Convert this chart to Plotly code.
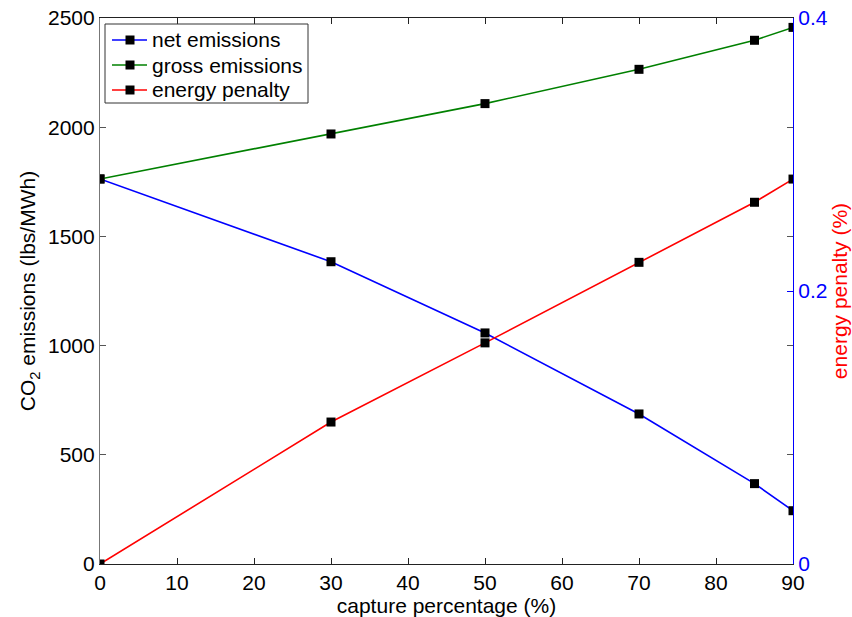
import plotly.graph_objects as go

# Capture percentage (%)
capture = [0, 30, 50, 70, 85, 90]

# CO2 emissions (lbs/MWh)
net_emissions = [1763, 1384, 1058, 687, 368, 244]
gross_emissions = [1763, 1969, 2108, 2265, 2398, 2457]

# Energy penalty (fraction, right axis)
energy_penalty = [0.0, 0.104, 0.162, 0.221, 0.265, 0.282]

x_ticks = [0, 10, 20, 30, 40, 50, 60, 70, 80, 90]
y_ticks = [0, 500, 1000, 1500, 2000, 2500]
y2_ticks = [0, 0.2, 0.4]

series_names = ["net emissions", "gross emissions", "energy penalty"]
series_colors = ["#0000ff", "#008000", "#ff0000"]

FONT = "Liberation Sans, Arial, sans-serif"
FS = 21
W, H = 852, 617
ML, MR, MT, MB = 100, 59, 18, 53
PW, PH = W - ML - MR, H - MT - MB
marker = dict(symbol="square", size=9, color="black")

fig = go.Figure()
fig.add_trace(go.Scatter(x=capture, y=net_emissions, name=series_names[0],
                         mode="lines+markers", line=dict(color=series_colors[0], width=1.6),
                         marker=marker))
fig.add_trace(go.Scatter(x=capture, y=gross_emissions, name=series_names[1],
                         mode="lines+markers", line=dict(color=series_colors[1], width=1.6),
                         marker=marker))
fig.add_trace(go.Scatter(x=capture, y=energy_penalty, name=series_names[2],
                         mode="lines+markers", line=dict(color=series_colors[2], width=1.6),
                         marker=marker, yaxis="y2"))


# Compact boxed legend in the upper-left corner of the axes, laid out in pixels
def px(xp):
    return (xp - ML) / PW


def py(yp):
    return (MT + PH - yp) / PH


shapes = [dict(type="rect", xref="paper", yref="paper",
               x0=px(105), x1=px(308), y0=py(24), y1=py(103),
               line=dict(color="#333", width=1), fillcolor="white", layer="above")]
annotations = []
for i, (name, color) in enumerate(zip(series_names, series_colors)):
    row = 40 + 25 * i
    shapes.append(dict(type="line", xref="paper", yref="paper",
                       x0=px(112), x1=px(147), y0=py(row), y1=py(row),
                       line=dict(color=color, width=1.6), layer="above"))
    shapes.append(dict(type="rect", xref="paper", yref="paper",
                       x0=px(125.5), x1=px(134.5), y0=py(row - 4.5), y1=py(row + 4.5),
                       line=dict(width=0), fillcolor="black", layer="above"))
    annotations.append(dict(text=name, xref="paper", yref="paper",
                            x=px(150), y=py(row), xanchor="left", yanchor="middle",
                            showarrow=False, font=dict(size=FS, color="black")))

fig.update_layout(
    width=W, height=H,
    margin=dict(l=ML, r=MR, t=MT, b=MB),
    paper_bgcolor="white", plot_bgcolor="white",
    font=dict(family=FONT, size=FS, color="black"),
    showlegend=False,
    shapes=shapes, annotations=annotations,
    xaxis=dict(range=[0, 90], tickvals=x_ticks, ticks="inside", ticklen=6,
               tickcolor="#222", showline=True, linecolor="#222", linewidth=1.2,
               mirror="ticks", showgrid=False, zeroline=False, automargin=False,
               title=dict(text="capture percentage (%)", standoff=0,
                          font=dict(size=FS))),
    yaxis=dict(range=[0, 2500], tickvals=y_ticks, ticks="inside", ticklen=6,
               tickcolor="#555", showline=True, linecolor="#777", linewidth=1.2,
               mirror="ticks", showgrid=False, zeroline=False, automargin=False,
               title=dict(text="CO<sub>2</sub> emissions (lbs/MWh)", standoff=6,
                          font=dict(size=FS))),
    yaxis2=dict(range=[0, 0.4], tickvals=y2_ticks, ticktext=["0", "0.2", "0.4"],
                overlaying="y", side="right", ticks="inside", ticklen=6,
                tickcolor="#0000ff", showline=True, linecolor="#0000ff", linewidth=1.2,
                tickfont=dict(color="#0000ff", size=FS), automargin=False,
                showgrid=False, zeroline=False,
                title=dict(text="energy penalty (%)", standoff=4,
                           font=dict(color="#ff0000", size=FS))),
)

fig.write_html("out.html")
